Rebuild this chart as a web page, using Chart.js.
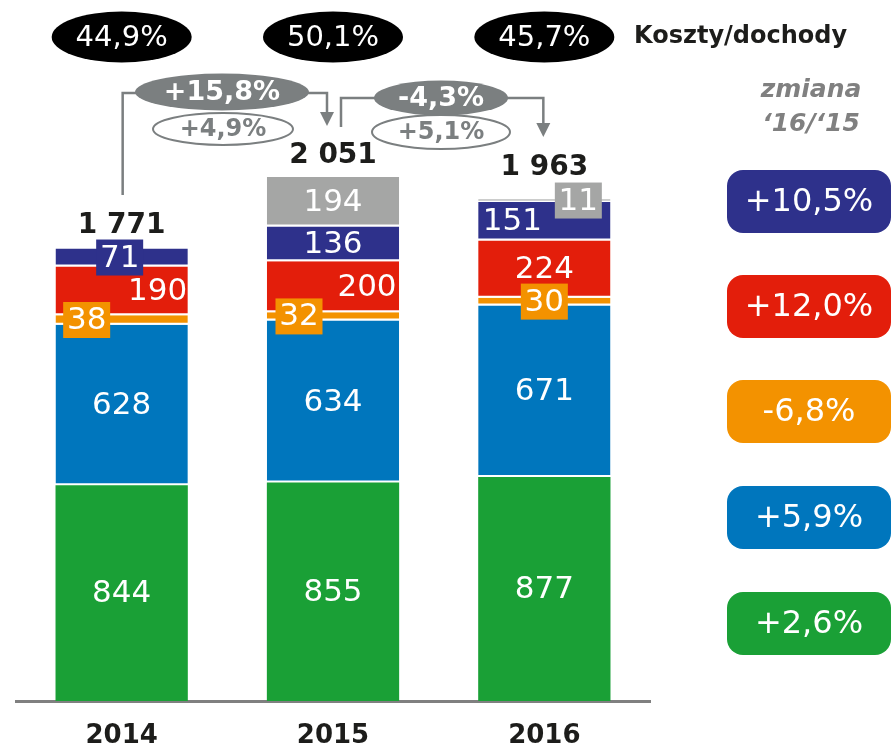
<!DOCTYPE html>
<html><head><meta charset="utf-8">
<script src="https://cdn.jsdelivr.net/npm/chart.js@4/dist/chart.umd.min.js"></script>
<style>html,body{margin:0;padding:0;background:#fff;}#wrap{width:891px;height:747px;position:relative;}</style>
</head><body><div id="wrap"><canvas id="c" width="891" height="747"></canvas></div>
<script>
// ---- data ----
const years = ['2014', '2015', '2016'];
const greenValues = [844, 855, 877];
const blueValues = [628, 634, 671];
const orangeValues = [38, 32, 30];
const redValues = [190, 200, 224];
const navyValues = [71, 136, 151];
const grayValues = [0, 194, 11];
const totalLabels = ['1 771', '2 051', '1 963'];
const costIncomeLabels = ['44,9%', '50,1%', '45,7%'];
const costIncomeTitle = 'Koszty/dochody';
const totalChangeLabels = ['+15,8%', '-4,3%'];
const otherChangeLabels = ['+4,9%', '+5,1%'];
const changeTitle = ['zmiana', '\u201816/\u201815'];
// change '16/'15 per series, top to bottom: navy, red, orange, blue, green
const seriesChangeLabels = ['+10,5%', '+12,0%', '-6,8%', '+5,9%', '+2,6%'];

// ---- styles ----
const C = {green:'#1aa036', blue:'#0076bd', orange:'#f39200', red:'#e31e0b', navy:'#2e318b', gray:'#a5a6a5', line:'#7b7f80', dark:'#1d1d1b'};
const F = '"DejaVu Sans", Verdana, sans-serif';
const labelDx = [[0,0,0],[0,0,0],[-35,-34,0],[36,34,0],[-2,0,-32],[0,0,34]];
const labelBox = [[0,0,0],[0,0,0],[1,1,1],[0,0,0],[1,0,0],[0,0,1]];
const totalDy = [23, 21, 31];

function ellipse(ctx, x, y, rx, ry, fill, stroke){
  ctx.beginPath(); ctx.ellipse(x, y, rx, ry, 0, 0, Math.PI*2);
  if (fill){ ctx.fillStyle = fill; ctx.fill(); }
  if (stroke){ ctx.strokeStyle = stroke; ctx.lineWidth = 2; ctx.stroke(); }
}
function text(ctx, s, x, y, font, color, align){
  ctx.font = font; ctx.fillStyle = color; ctx.textAlign = align || 'center'; ctx.textBaseline = 'middle';
  ctx.fillText(s, x, y);
}
function arrow(ctx, x, yTip){
  ctx.beginPath(); ctx.moveTo(x-7, yTip-14); ctx.lineTo(x+7, yTip-14); ctx.lineTo(x, yTip); ctx.closePath();
  ctx.fillStyle = C.line; ctx.fill();
}

const annot = {
  id: 'annot',
  afterDatasetsDraw(chart){
    const ctx = chart.ctx, xs = chart.scales.x, ys = chart.scales.y;
    ctx.save();
    // segment labels
    chart.data.datasets.forEach((ds, d) => {
      const meta = chart.getDatasetMeta(d);
      meta.data.forEach((el, i) => {
        const v = ds.data[i]; if (!v) return;
        const cx = el.x + labelDx[d][i];
        const cy = (el.y + el.base) / 2;
        if (labelBox[d][i]){ ctx.fillStyle = ds.backgroundColor; ctx.fillRect(cx-23.5, cy-18, 47, 36); }
        text(ctx, String(v), cx, cy+1, '31px '+F, '#fff');
      });
    });
    // totals
    totalLabels.forEach((t, i) => {
      const sum = chart.data.datasets.reduce((a, ds) => a + ds.data[i], 0);
      text(ctx, t, xs.getPixelForValue(i), ys.getPixelForValue(sum) - totalDy[i], 'bold 28px '+F, C.dark);
    });
    // cost/income ellipses
    costIncomeLabels.forEach((t, i) => {
      const x = xs.getPixelForValue(i);
      ellipse(ctx, x, 37, 70, 25.5, '#000');
      text(ctx, t, x, 38, '29px '+F, '#fff');
    });
    text(ctx, costIncomeTitle, 634, 37, 'bold 24px '+F, C.dark, 'left');
    // connectors
    const x0 = xs.getPixelForValue(0), x1 = xs.getPixelForValue(1), x2 = xs.getPixelForValue(2);
    ctx.strokeStyle = C.line; ctx.lineWidth = 2.5;
    ctx.beginPath(); ctx.moveTo(x0+1, 195); ctx.lineTo(x0+1, 93); ctx.lineTo(x1-6, 93); ctx.lineTo(x1-6, 114); ctx.stroke();
    arrow(ctx, x1-6, 126);
    ctx.beginPath(); ctx.moveTo(x1+8, 127); ctx.lineTo(x1+8, 98); ctx.lineTo(x2-1, 98); ctx.lineTo(x2-1, 125); ctx.stroke();
    arrow(ctx, x2-1, 137);
    ellipse(ctx, 222, 92, 87, 18.5, C.line);
    text(ctx, totalChangeLabels[0], 222, 93, 'bold 27px '+F, '#fff');
    ellipse(ctx, 223, 129, 70, 16, '#fff', C.line);
    text(ctx, otherChangeLabels[0], 223, 130, 'bold 24px '+F, C.line);
    ellipse(ctx, 441, 98, 67, 17.5, C.line);
    text(ctx, totalChangeLabels[1], 441, 99, 'bold 27px '+F, '#fff');
    ellipse(ctx, 441, 132, 69, 17, '#fff', C.line);
    text(ctx, otherChangeLabels[1], 441, 133, 'bold 24px '+F, C.line);
    // right column
    text(ctx, changeTitle[0], 811, 90, 'italic bold 25px '+F, '#808080');
    text(ctx, changeTitle[1], 811, 124, 'italic bold 25px '+F, '#808080');
    const boxColors = [C.navy, C.red, C.orange, C.blue, C.green];
    const boxTops = [170, 275, 380, 486, 592];
    seriesChangeLabels.forEach((t, k) => {
      ctx.beginPath(); ctx.roundRect(727, boxTops[k], 164, 63, 16);
      ctx.fillStyle = boxColors[k]; ctx.fill();
      text(ctx, t, 809, boxTops[k] + 33, '32px '+F, '#fff');
    });
    ctx.restore();
  }
};

const mk = (name, data, color, bw) => ({label: name, data, backgroundColor: color, borderColor: '#fff',
  borderWidth: {top:0, left:0, right:0, bottom:bw}, borderSkipped: false});

new Chart(document.getElementById('c'), {
  type: 'bar',
  data: {
    labels: years,
    datasets: [
      mk('Seria 1', greenValues, C.green, 0),
      mk('Seria 2', blueValues, C.blue, 2),
      mk('Seria 3', orangeValues, C.orange, 2),
      mk('Seria 4', redValues, C.red, 2),
      mk('Seria 5', navyValues, C.navy, 2),
      mk('Seria 6', grayValues, C.gray, 2)
    ]
  },
  options: {
    responsive: false, animation: false, devicePixelRatio: 1,
    layout: {padding: {top: 20, left: 16, right: 241, bottom: 0}},
    plugins: {legend: {display: false}, tooltip: {enabled: false}},
    datasets: {bar: {barPercentage: 0.626, categoryPercentage: 1}},
    scales: {
      x: {stacked: true, grid: {display: false, drawTicks: false},
          border: {display: true, color: '#808080', width: 3},
          ticks: {font: {family: F, size: 26, weight: 'bold'}, color: C.dark, padding: 20},
          afterFit: (s) => { s.height = 46; }},
      y: {stacked: true, display: false, min: 0, max: 2665}
    }
  },
  plugins: [annot]
});
</script></body></html>
